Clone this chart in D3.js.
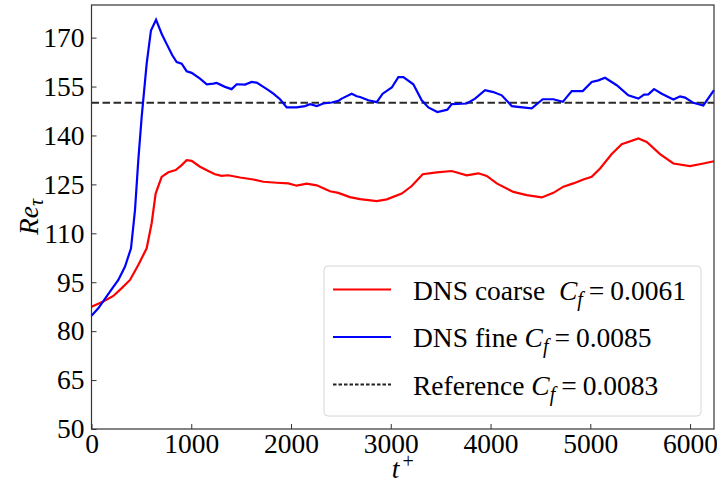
<!DOCTYPE html>
<html>
<head>
<meta charset="utf-8">
<script src="https://cdn.jsdelivr.net/npm/d3@7"></script>
<style>
  body { margin: 0; background: #fff; }
  svg { font-family: "Liberation Serif", "Times New Roman", serif; }
</style>
</head>
<body>
<div id="chart"></div>
<script>
// time (t+) and Re_tau for each run
const tCoarse = [0, 118, 219, 303, 386, 469, 553, 603, 643, 703, 770, 844, 904, 954, 1004, 1088, 1171, 1238,
  1305, 1371, 1489, 1622, 1723, 1857, 1973, 2057, 2157, 2258, 2324, 2391, 2474, 2590, 2692, 2859, 2960,
  3110, 3210, 3320, 3461, 3611, 3761, 3878, 3962, 4062, 4229, 4363, 4513, 4630, 4730, 4830, 4930, 5014,
  5098, 5215, 5315, 5482, 5566, 5699, 5833, 6000, 6133, 6240];
const reCoarse = [87.5, 89.1, 90.8, 93.2, 95.7, 100.3, 105.4, 113.1, 122.2, 127.3, 128.7, 129.4, 130.9, 132.4,
  132.2, 130.4, 129.1, 128.1, 127.6, 127.8, 127.1, 126.5, 125.8, 125.5, 125.3, 124.6, 125.2, 124.7, 123.8,
  122.9, 122.4, 121.1, 120.5, 119.9, 120.4, 122.2, 124.5, 128.1, 128.7, 129.1, 127.8, 128.4, 127.6, 125.3,
  122.7, 121.7, 121.0, 122.4, 124.3, 125.3, 126.5, 127.3, 129.9, 134.3, 137.3, 139.1, 138.0, 134.3, 131.4,
  130.6, 131.4, 132.1];

const tFine = [0, 68, 185, 269, 336, 396, 436, 469, 503, 553, 596, 647, 703, 754, 810, 854, 904, 954, 1004,
  1088, 1155, 1221, 1255, 1338, 1405, 1455, 1539, 1606, 1656, 1723, 1773, 1823, 1890, 1957, 2057, 2140,
  2191, 2258, 2324, 2408, 2474, 2508, 2608, 2659, 2692, 2775, 2859, 2919, 3010, 3076, 3126, 3226, 3310,
  3377, 3467, 3567, 3611, 3761, 3845, 3945, 4028, 4112, 4213, 4296, 4413, 4523, 4630, 4724, 4814, 4924,
  5014, 5081, 5148, 5265, 5381, 5482, 5539, 5582, 5639, 5716, 5833, 5900, 5950, 6033, 6133, 6240];
const reFine = [84.7, 87.0, 92.1, 95.7, 99.8, 105.4, 117.1, 132.4, 145.7, 162.0, 172.2, 175.5, 171.2, 168.0,
  164.6, 162.5, 162.0, 159.7, 159.2, 157.4, 155.7, 155.9, 156.1, 154.9, 154.2, 155.7, 155.6, 156.4, 156.2,
  154.9, 153.9, 152.8, 151.1, 148.6, 148.6, 149.0, 149.6, 149.0, 149.8, 150.1, 150.6, 151.3, 152.8, 152.0,
  151.8, 150.8, 150.2, 152.8, 154.7, 157.9, 157.9, 155.7, 150.8, 148.6, 147.2, 147.9, 149.6, 149.8, 151.3,
  153.9, 153.3, 152.3, 149.0, 148.7, 148.3, 151.1, 151.1, 150.3, 153.6, 153.6, 156.4, 156.9, 157.7, 155.4,
  152.3, 151.3, 152.5, 152.6, 154.2, 152.8, 151.0, 152.0, 151.6, 150.0, 149.2, 153.9];

const reReference = 150;
const xTicks = [0, 1000, 2000, 3000, 4000, 5000, 6000];
const yTicks = [50, 65, 80, 95, 110, 125, 140, 155, 170];
const legendItems = [
  {name: "DNS coarse\u00a0\u00a0", cf: "0.0061", color: "red", dash: null},
  {name: "DNS fine ", cf: "0.0085", color: "blue", dash: null},
  {name: "Reference ", cf: "0.0083", color: "#222", dash: "3.5,2"}
];

const width = 717, height = 485;
const margin = {top: 5, right: 3, bottom: 56, left: 91.5};
const fontSize = 27.5;

const svg = d3.select("#chart").append("svg")
  .attr("width", width)
  .attr("height", height);

const x = d3.scaleLinear().domain([0, 6240]).range([margin.left, width - margin.right]);
const y = d3.scaleLinear().domain([50, 180]).range([height - margin.bottom, margin.top]);

const line = d3.line().x(d => x(d[0])).y(d => y(d[1]));

const plot = svg.append("g");

// reference line
plot.append("line")
  .attr("x1", x(0)).attr("x2", x(6240))
  .attr("y1", y(reReference)).attr("y2", y(reReference))
  .style("stroke", "#2a2a2a")
  .style("stroke-width", 2)
  .style("stroke-dasharray", "7.5,3.5");

plot.append("path")
  .datum(d3.zip(tCoarse, reCoarse))
  .attr("d", line)
  .style("fill", "none")
  .style("stroke", "red")
  .style("stroke-width", 2.2);

plot.append("path")
  .datum(d3.zip(tFine, reFine))
  .attr("d", line)
  .style("fill", "none")
  .style("stroke", "blue")
  .style("stroke-width", 2.2);

// axes, ticks pointing in
const xAxis = svg.append("g")
  .attr("transform", `translate(0,${height - margin.bottom})`)
  .call(d3.axisBottom(x).tickValues(xTicks).tickFormat(d3.format("d"))
    .tickSizeInner(-5).tickSizeOuter(0).tickPadding(4));
const yAxis = svg.append("g")
  .attr("transform", `translate(${margin.left},0)`)
  .call(d3.axisLeft(y).tickValues(yTicks).tickSizeInner(-5).tickSizeOuter(0).tickPadding(7));

[xAxis, yAxis].forEach(a => {
  a.attr("font-size", null).attr("font-family", null);
  a.select(".domain").remove();
  a.selectAll("line").style("stroke", "#333");
  a.selectAll("text")
    .style("font-size", fontSize + "px")
    .style("fill", "#000");
});

// frame
svg.append("rect")
  .attr("x", margin.left).attr("y", margin.top)
  .attr("width", width - margin.right - margin.left)
  .attr("height", height - margin.bottom - margin.top)
  .style("fill", "none")
  .style("stroke", "#333")
  .style("stroke-width", 1.2);

// axis labels
const ylab = svg.append("text")
  .attr("transform", `translate(38,${(margin.top + height - margin.bottom) / 2}) rotate(-90)`)
  .attr("text-anchor", "middle")
  .style("font-size", fontSize + "px");
ylab.append("tspan").style("font-style", "italic").text("Re");
ylab.append("tspan").attr("dy", 5).style("font-style", "italic").style("font-size", "20px").text("\u03c4");

const xlab = svg.append("text")
  .attr("x", (margin.left + width - margin.right) / 2)
  .attr("y", 478)
  .attr("text-anchor", "middle")
  .style("font-size", fontSize + "px");
xlab.append("tspan").style("font-style", "italic").text("t");
xlab.append("tspan").attr("dx", 3).attr("dy", -10).style("font-size", "20px").text("+");

// legend
const lg = svg.append("g");
lg.append("rect")
  .attr("x", 324).attr("y", 266)
  .attr("width", 377).attr("height", 150)
  .attr("rx", 4)
  .style("fill", "rgba(255,255,255,0.8)")
  .style("stroke", "#d6d6d6")
  .style("stroke-width", 1);

legendItems.forEach((d, i) => {
  const ly = 289.5 + i * 47.5;
  lg.append("line")
    .attr("x1", 333).attr("x2", 391)
    .attr("y1", ly).attr("y2", ly)
    .style("stroke", d.color)
    .style("stroke-width", 2)
    .style("stroke-dasharray", d.dash);
  const t = lg.append("text")
    .attr("x", 413)
    .attr("y", ly + 10)
    .style("font-size", fontSize + "px")
    .style("white-space", "pre");
  t.append("tspan").text(d.name);
  t.append("tspan").style("font-style", "italic").text("C");
  t.append("tspan").attr("dy", 6).style("font-style", "italic").style("font-size", "20px").text("f");
  t.append("tspan").attr("dy", -6).attr("dx", 6).text("=");
  t.append("tspan").attr("dx", 6).text(d.cf);
});
</script>
</body>
</html>
